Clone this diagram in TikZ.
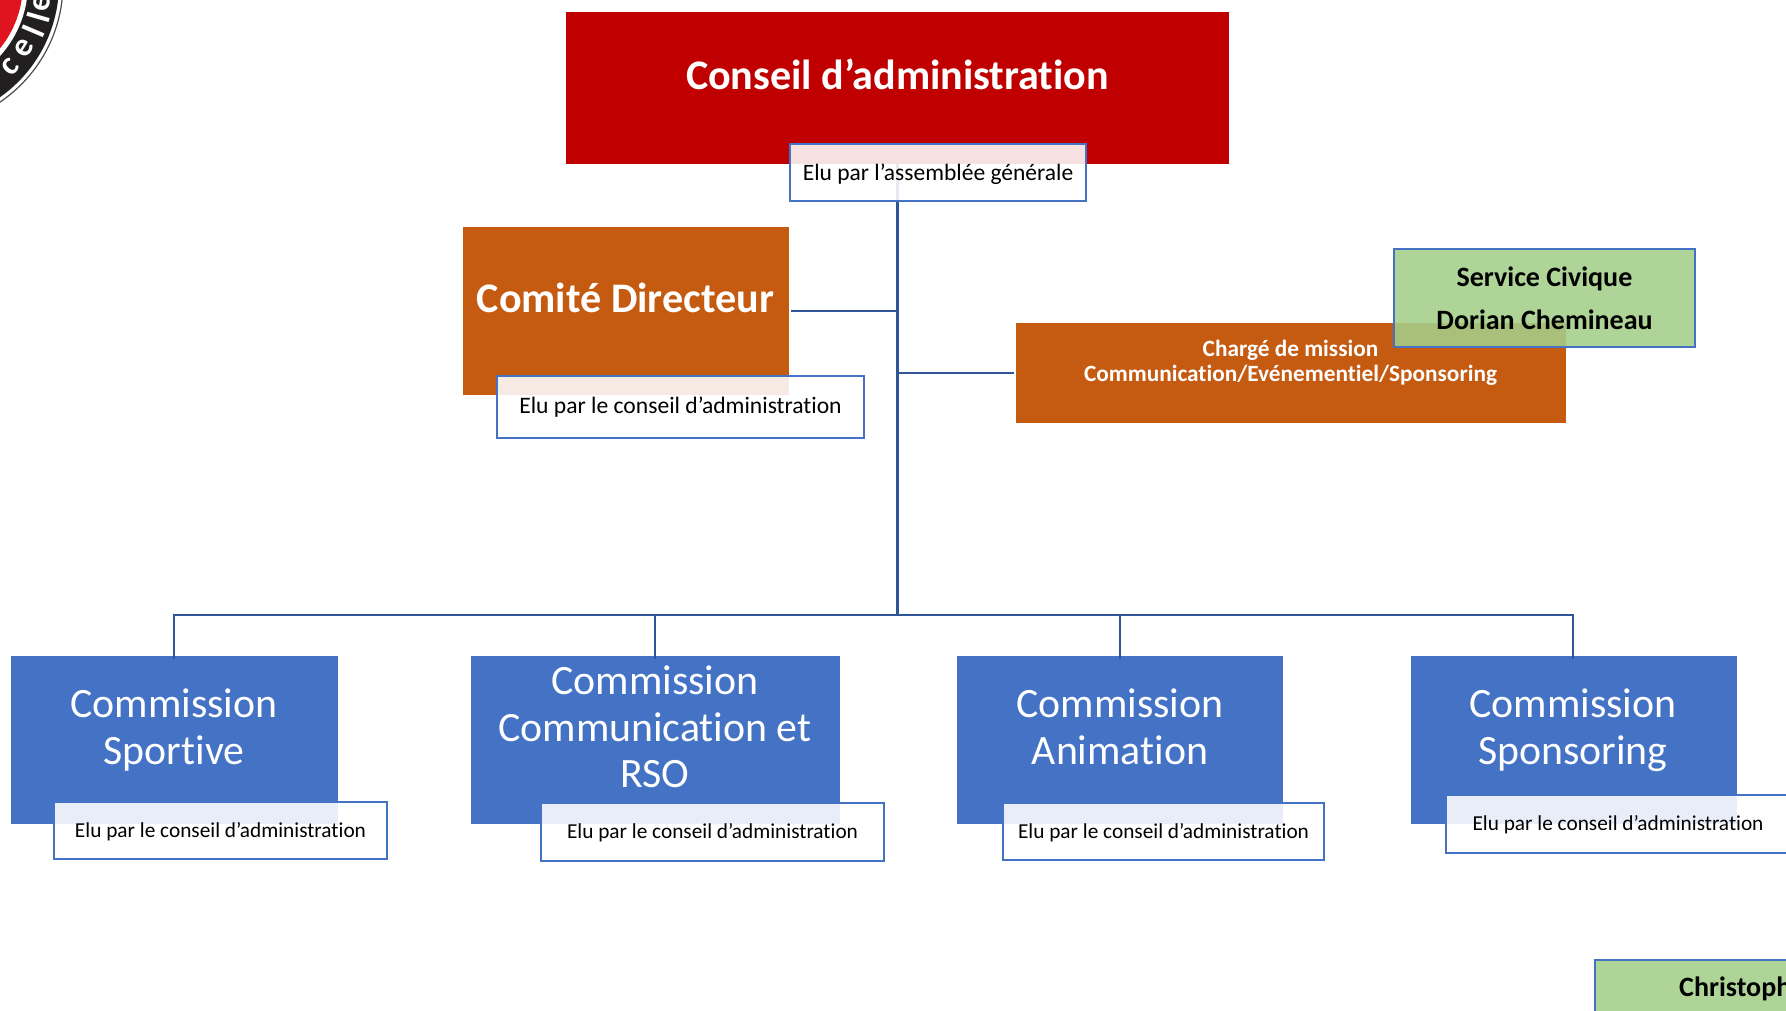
\documentclass[tikz,border=0pt]{standalone}
\usepackage{fontspec}
\setmainfont[Ligatures=NoCommon]{Carlito}
\definecolor{cred}{HTML}{C00000}
\definecolor{corange}{HTML}{C55A11}
\definecolor{cblue}{HTML}{4472C4}
\definecolor{cline}{HTML}{2F5597}
\definecolor{cgreen}{HTML}{A5CF89}
\definecolor{clogo}{HTML}{E0141E}
\definecolor{cband}{HTML}{221F20}
\tikzset{
  shapebox/.style={rectangle,inner sep=0pt,outer sep=0pt,anchor=north west,draw=none},
  redbox/.style={shapebox,fill=cred},
  orangebox/.style={shapebox,fill=corange},
  bluebox/.style={shapebox,fill=cblue},
  notebox/.style={shapebox,draw=cblue,line width=2.4pt,fill=white,fill opacity=.88,text opacity=1,text=black,font=\fontsize{21.3}{25}\selectfont,text height=16.5pt,text depth=3pt},
  greenbox/.style={shapebox,draw=cblue,line width=2.4pt,fill=cgreen,fill opacity=.88,text opacity=1,text=black,align=center,font=\fontsize{28}{43}\selectfont\bfseries},
  bigtext/.style={text=white,inner sep=0pt,font=\fontsize{42.1}{48}\selectfont\bfseries},
  comtext/.style={text=white,inner sep=0pt,align=center,font=\fontsize{41.8}{46.7}\selectfont},
  midtext/.style={text=white,inner sep=0pt,align=center,font=\fontsize{23.3}{25}\selectfont\bfseries},
  trunk/.style={draw=cline,line width=2.8pt},
  drop/.style={draw=cline,line width=2.2pt},
  logoletter/.style={text=white,inner sep=0pt,font=\fontsize{33}{33}\selectfont\bfseries}
}
\begin{document}
\begin{tikzpicture}[x=1pt,y=-1pt]
\path[use as bounding box,clip] (0,0) rectangle (1786,1011);
\fill[white] (0,0) rectangle (1786,1011);
% logo
\draw[draw=cband!80,line width=1.2pt,fill=white] (-80,-16.5) circle (143);
\fill[cband] (-80,-16.5) circle (139);
\fill[white] (-80,-16.5) circle (108);
\fill[clogo] (-80,-16.5) circle (103);
\foreach \a/\r/\t/\n in {43/47/c/la,32/58/e/lb,23/67/l/lc,16/74/l/ld,9/81/e/le}{
  \node[logoletter,rotate=\r] (\n) at ({-80+123*cos(\a)},{-16.5+123*sin(\a)}) {\t};
}
% top boxes
\node[redbox,minimum width=663pt,minimum height=152pt] (conseil) at (566,12) {};
\node[bigtext] (conseiltxt) at (897.5,74) {Conseil d’administration};
\node[orangebox,minimum width=326pt,minimum height=168pt] (comite) at (463,227) {};
\node[bigtext] (comitetxt) at (625.5,298) {Comité Directeur};
\node[orangebox,minimum width=550pt,minimum height=100pt] (charge) at (1016,323) {};
\node[midtext] (chargetxt) at (1290.5,362.5) {Chargé de mission\\Communication/Evénementiel/Sponsoring};
% commission boxes
\node[bluebox,minimum width=326.5pt,minimum height=168pt] (com1) at (11,656) {};
\node[bluebox,minimum width=369pt,minimum height=168pt] (com2) at (470.5,656) {};
\node[bluebox,minimum width=326pt,minimum height=168pt] (com3) at (957,656) {};
\node[bluebox,minimum width=326pt,minimum height=168pt] (com4) at (1410.5,656) {};
\node[comtext] (com1txt) at (174,730) {Commission\\Sportive};
\node[comtext] (com2txt) at (655,727) {Commission\\Communication et\\RSO};
\node[comtext] (com3txt) at (1120,726.5) {Commission\\Animation};
\node[comtext] (com4txt) at (1573,730) {Commission\\Sponsoring};
% connectors
\coordinate (bus) at (897.5,615);
\draw[trunk] (conseil.south) -- (bus);
\draw[trunk] ([xshift=2pt]comite.east) -- (comite.east -| conseil.south);
\draw[trunk] ([xshift=-2pt]charge.west) -- (charge.west -| conseil.south);
\draw[trunk,line cap=rect] (bus -| com1txt) -- (bus -| com4txt);
\draw[drop] (bus -| com1txt) -- ([yshift=-3pt]com1.north -| com1txt);
\draw[drop] (bus -| com2txt) -- ([yshift=-3pt]com2.north -| com2txt);
\draw[drop] (bus -| com3txt) -- ([yshift=-3pt]com3.north -| com3txt);
\draw[drop] (bus -| com4txt) -- ([yshift=-3pt]com4.north -| com4txt);
% note boxes
\node[notebox,minimum width=296pt,minimum height=57pt,font=\fontsize{23.5}{27}\selectfont,text height=18.5pt,text depth=3pt] (noteag) at (790,144) {Elu par l’assemblée générale};
\node[notebox,minimum width=367pt,minimum height=62pt,font=\fontsize{23.6}{27}\selectfont,text height=17pt,text depth=5pt] (notecd) at (497,376) {Elu par le conseil d’administration};
\node[notebox,minimum width=333pt,minimum height=57pt] (note1) at (54,802) {Elu par le conseil d’administration};
\node[notebox,minimum width=343pt,minimum height=58pt] (note2) at (541,803) {Elu par le conseil d’administration};
\node[notebox,minimum width=321pt,minimum height=57pt] (note3) at (1003,803) {Elu par le conseil d’administration};
\node[notebox,minimum width=344pt,minimum height=58pt] (note4) at (1446,795) {Elu par le conseil d’administration};
% green boxes
\node[greenbox,minimum width=301pt,minimum height=98pt] (civique) at (1394,249) {Service Civique\\Dorian Chemineau};
\node[greenbox,minimum width=240pt,minimum height=100pt] (christo) at (1595,960) {};
\node[inner sep=0pt,anchor=west,text=black,font=\fontsize{28}{30}\selectfont\bfseries] (christotxt) at (1679,989) {Christoph};
\end{tikzpicture}
\end{document}
